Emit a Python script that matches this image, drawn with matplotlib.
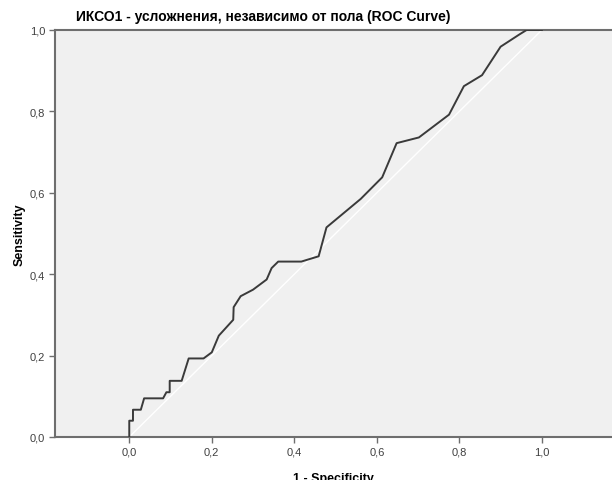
import matplotlib
matplotlib.use("Agg")
import matplotlib.pyplot as plt
import matplotlib.ticker as mticker

plt.rcParams.update({
    "font.family": ["Liberation Sans", "DejaVu Sans"],
    "font.size": 8,
})

# ROC curve points
fpr = [0.0, 0.0, 0.009, 0.009, 0.028, 0.036, 0.082, 0.09, 0.098, 0.098,
       0.127, 0.144, 0.18, 0.2, 0.217, 0.252, 0.253, 0.27, 0.3, 0.333,
       0.345, 0.361, 0.417, 0.459, 0.478, 0.561, 0.613, 0.648, 0.702,
       0.775, 0.811, 0.855, 0.9, 0.947, 0.963, 1.0]
tpr = [0.0, 0.04, 0.04, 0.067, 0.067, 0.095, 0.095, 0.11, 0.11, 0.138,
       0.138, 0.193, 0.193, 0.208, 0.249, 0.288, 0.319, 0.346, 0.362, 0.387,
       0.415, 0.431, 0.431, 0.444, 0.515, 0.585, 0.638, 0.722, 0.736,
       0.792, 0.862, 0.889, 0.959, 0.99, 1.0, 1.0]
ticks = [0.0, 0.2, 0.4, 0.6, 0.8, 1.0]

AX_BG = "#F0F0F0"
LINE = "#3A3A3A"
SPINE = "#6E6E6E"

fig = plt.figure(figsize=(6.12, 4.81), dpi=100)
fig.set_facecolor("white")
ax = fig.add_axes([55 / 612, 43 / 481, 557 / 612, 407 / 481])
ax.set_facecolor(AX_BG)

ax.plot([0, 1], [0, 1], color="white", lw=1.0, zorder=2)
ax.plot(fpr, tpr, color=LINE, lw=1.4, zorder=3)

ax.set_xlim(-0.18, 1.17)
ax.set_ylim(0, 1)
ax.set_xticks(ticks)
ax.set_yticks(ticks)
fmt = mticker.FuncFormatter(lambda v, _: f"{v:.1f}".replace(".", ","))
ax.xaxis.set_major_formatter(fmt)
ax.yaxis.set_major_formatter(fmt)
ax.tick_params(length=4, width=1, color=SPINE, labelcolor="#404040",
               labelsize=8, pad=3)

for side in ["left", "bottom", "top"]:
    ax.spines[side].set_color(SPINE)
    ax.spines[side].set_linewidth(1.5)
ax.spines["right"].set_visible(False)

ax.set_xlabel("1 - Specificity", fontsize=9, fontweight="bold", labelpad=11)
ax.set_ylabel("Sensitivity", fontsize=9, fontweight="bold", labelpad=3)
fig.text(263 / 612, 1 - 17 / 481,
         "ИКСО1 - усложнения, независимо от пола (ROC Curve)",
         ha="center", va="center", fontsize=10, fontweight="bold")

fig.savefig("out.png", dpi=100)
